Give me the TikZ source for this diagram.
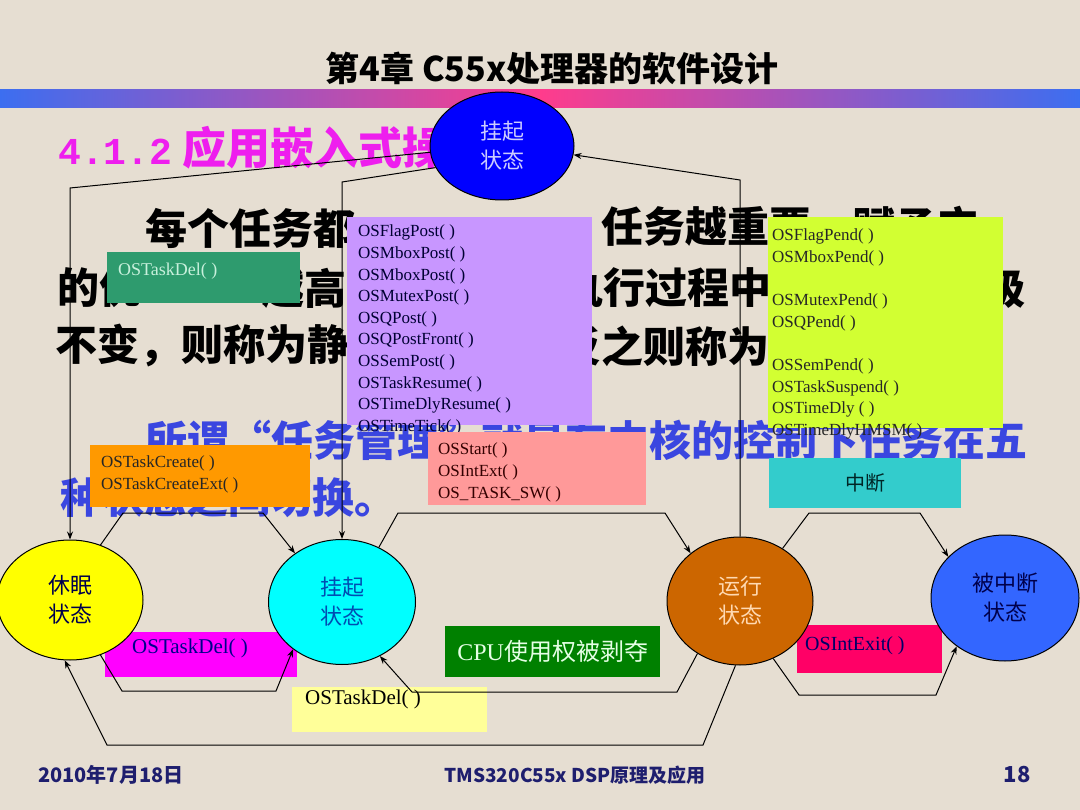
\documentclass[tikz,border=0pt]{standalone}
\usepackage{fontspec}
\usetikzlibrary{shapes.geometric,arrows.meta}
\setmainfont{Liberation Serif}
\newfontfamily\cjk{Noto Sans CJK SC}
\newfontfamily\mono{Liberation Mono}
\definecolor{paper}{RGB}{230,222,210}
\definecolor{barblue}{RGB}{60,110,240}
\definecolor{barpink}{RGB}{255,60,140}
\definecolor{headmag}{RGB}{238,30,238}
\definecolor{bodyblue}{RGB}{58,70,224}
\definecolor{delgreen}{RGB}{46,155,110}
\definecolor{delmint}{RGB}{200,240,220}
\definecolor{postpurple}{RGB}{200,150,255}
\definecolor{pendlime}{RGB}{210,255,50}
\definecolor{startpink}{RGB}{255,153,153}
\definecolor{createorange}{RGB}{255,153,0}
\definecolor{irqcyan}{RGB}{51,204,204}
\definecolor{delmagenta}{RGB}{255,0,255}
\definecolor{cpugreen}{RGB}{0,128,0}
\definecolor{exitpink}{RGB}{255,0,102}
\definecolor{paleyellow}{RGB}{255,255,153}
\definecolor{hangblue}{RGB}{0,0,255}
\definecolor{sleepyellow}{RGB}{255,255,0}
\definecolor{waitcyan}{RGB}{0,255,255}
\definecolor{runbrown}{RGB}{204,102,0}
\definecolor{isrblue}{RGB}{51,102,255}
\definecolor{footnavy}{RGB}{30,30,110}

\begin{document}
\begin{tikzpicture}[x=1pt, y=-1pt,
    state/.style={ellipse, draw=black, line width=1pt, inner sep=0pt, align=center, font=\cjk\fontsize{22}{29}\selectfont},
    pane/.style={rectangle, inner sep=0pt, anchor=north west},
    calls/.style={anchor=north west, inner sep=0pt, align=left, font=\fontsize{17}{21.6}\selectfont},
    body/.style={anchor=west, inner sep=0pt, font=\cjk\bfseries\fontsize{42}{50}\selectfont},
    link/.style={draw=black, line width=1pt, -{Stealth[length=8pt, width=6pt]}},
    foot/.style={inner sep=0pt, text=footnavy, font=\cjk\bfseries\fontsize{19}{22}\selectfont},
  ]
  \fill[paper] (0,0) rectangle (1080,810);
  \useasboundingbox (0,0) rectangle (1080,810);
  \shade[left color=barblue, right color=barblue, middle color=barpink] (0,90) rectangle (1080,108);
  \node[inner sep=0pt, font=\cjk\bfseries\fontsize{34}{40}\selectfont] (title) at (552,68) {第4章 C55x处理器的软件设计};
  \node[anchor=west, inner sep=0pt, text=headmag, font=\cjk\bfseries\fontsize{44}{50}\selectfont] (heading) at (58,148) {{\mono\bfseries\fontsize{38}{44}\selectfont 4.1.2} 应用嵌入式操};

  \node[body] (line1a) at (145,228) {每个任务都};
  \node[body] (line1b) at (601,228) {任务越重要，赋予它};
  \node[body] (line2a) at (57,288) {的优};
  \node[body] (line2b) at (262,288) {越高};
  \node[body] (line2c) at (561,288) {执行过程中};
  \node[body] (line2d) at (983,288) {级};
  \node[body] (line3a) at (55,346) {不变，则称为静};
  \node[body] (line3b) at (559,346) {反之则称为};
  \node[body, text=bodyblue] (line4) at (145,440) {所谓\makebox[42pt][r]{“}任务管理\makebox[42pt][l]{”}就是在内核的控制下任务在五};
  \node[body, text=bodyblue] (line5) at (60,497) {种状态之间切换。};

  \node[pane, fill=delgreen, minimum width=193pt, minimum height=51pt] (delbox) at (107,252) {};
  \node[calls, text=delmint, font=\fontsize{18}{22}\selectfont] (dellist) at (118,263) {OSTaskDel( )};
  \node[pane, fill=postpurple, minimum width=245pt, minimum height=208pt] (postbox) at (347,217) {};
  \node[calls, text=black!80!blue] (postlist) at (358,225) {OSFlagPost( )\\OSMboxPost( )\\OSMboxPost( )\\OSMutexPost( )\\OSQPost( )\\OSQPostFront( )\\OSSemPost( )\\OSTaskResume( )\\OSTimeDlyResume( )\\OSTimeTick( )};
  \node[pane, fill=pendlime, minimum width=235pt, minimum height=211pt] (pendbox) at (768,217) {};
  \node[calls, text=black!85] (pendlist) at (772,229) {OSFlagPend( )\\OSMboxPend( )\\[21.6pt]OSMutexPend( )\\OSQPend( )\\[21.6pt]OSSemPend( )\\OSTaskSuspend( )\\OSTimeDly ( )\\OSTimeDlyHMSM( )};
  \node[pane, fill=startpink, minimum width=218pt, minimum height=73pt] (startbox) at (428,432) {};
  \node[calls, text=black!80!red] (startlist) at (438,443) {OSStart( )\\OSIntExt( )\\OS\_TASK\_SW( )};
  \node[pane, fill=createorange, minimum width=220pt, minimum height=62pt] (createbox) at (90,445) {};
  \node[calls, text=black!85] (createlist) at (101,456) {OSTaskCreate( )\\OSTaskCreateExt( )};
  \node[pane, fill=irqcyan, minimum width=192pt, minimum height=50pt, text=black!70!teal, font=\cjk\fontsize{20}{24}\selectfont] (irqbox) at (769,458) {中断};

  \node[pane, fill=delmagenta, minimum width=192pt, minimum height=45pt] (killbox) at (105,632) {};
  \node[calls, text=blue!55!black, font=\fontsize{21}{24}\selectfont] (killtext) at (132,639) {OSTaskDel( )};
  \node[pane, fill=cpugreen, minimum width=215pt, minimum height=51pt, text=green!10, font=\fontsize{24}{28}\selectfont] (cpubox) at (445,626) {CPU{\cjk 使用权被剥夺}};
  \node[pane, fill=exitpink, minimum width=145pt, minimum height=48pt] (exitbox) at (797,625) {};
  \node[calls, text=blue!40!black, font=\fontsize{20}{24}\selectfont] (exittext) at (805,636) {OSIntExit( )};
  \node[pane, fill=paleyellow, minimum width=195pt, minimum height=45pt] (dropbox) at (292,687) {};
  \node[calls, text=black, font=\fontsize{21}{24}\selectfont] (droptext) at (305,690) {OSTaskDel( )};

  \node[state, fill=hangblue, text=blue!20, minimum width=144pt, minimum height=108pt] (hang) at (502,146) {挂起\\状态};
  \node[state, fill=sleepyellow, text=blue!30!black, minimum width=146pt, minimum height=120pt] (sleep) at (70,600) {休眠\\状态};
  \node[state, fill=waitcyan, text=teal!60!blue, minimum width=147pt, minimum height=125pt] (wait) at (342,602) {挂起\\状态};
  \node[state, fill=runbrown, text=orange!30, minimum width=146pt, minimum height=128pt] (run) at (740,601) {运行\\状态};
  \node[state, fill=isrblue, text=blue!30!black, minimum width=148pt, minimum height=126pt] (isr) at (1005,598) {被中断\\状态};

  \draw[link] (hang.185) -- (70,188) -- (sleep.north);
  \draw[link] (hang.198) -- (342,182) -- (wait.north);
  \draw[link] (run.north) -- (740,180) -- (hang.353);
  \draw[link] (sleep.61) -- (123,513) -- (263,513) -- (wait.134);
  \draw[link] (wait.56) -- (398,513) -- (665,513) -- (run.136);
  \draw[link] (run.51) -- (809,513) -- (920,513) -- (isr.144);
  \draw[link] (run.300) -- (799,695) -- (936,695) -- (isr.225);
  \draw[link] (run.231) -- (677,692) -- (412,692) -- (wait.305);
  \draw[link] (sleep.299) -- (122,691) -- (276,691) -- (wait.224);
  \draw[link] (run.266) -- (703,745) -- (107,745) -- (sleep.265);

  \node[foot, anchor=west, font=\cjk\bfseries\fontsize{20}{24}\selectfont] (date) at (38,775) {2010年7月18日};
  \node[foot] (course) at (575,775) {TMS320C55x DSP原理及应用};
  \node[foot, font=\cjk\bfseries\fontsize{22}{24}\selectfont] (page) at (1017,775) {18};
\end{tikzpicture}
\end{document}
